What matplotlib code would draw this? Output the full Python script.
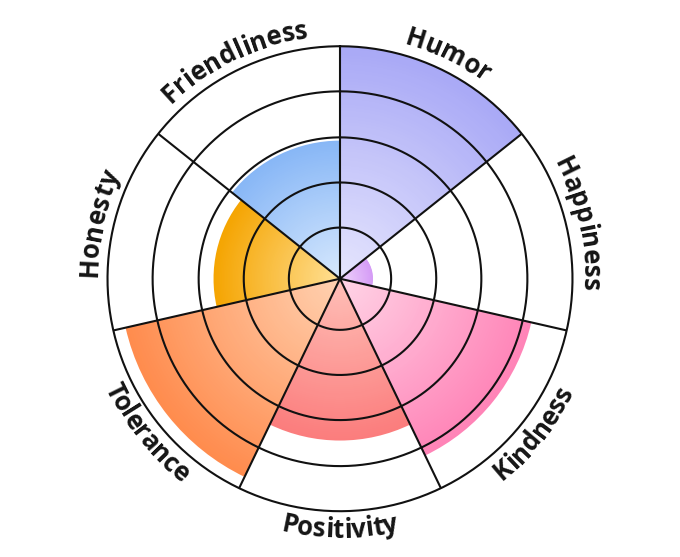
"""Polar area (rose) chart of personality traits with curved outer labels."""

import numpy as np
import matplotlib
matplotlib.use("Agg")
import matplotlib.pyplot as plt
from matplotlib.colors import LinearSegmentedColormap
from matplotlib.font_manager import FontProperties

LABELS = ["Humor", "Happiness", "Kindness", "Positivity",
          "Tolerance", "Honesty", "Friendliness"]
VALUES = [5.0, 0.71, 4.22, 3.48, 4.73, 2.72, 2.97]
RINGS = [1.1, 2.07, 3.04, 4.03, 5.0]
R_MAX = 5.0

# radial gradient per sector: centre colour -> edge colour
INNER_COLORS = ["#e6e6fd", "#f0d6fb", "#ffd5e7", "#ffc0b8",
                "#ffd2b2", "#ffe095", "#d8e9fd"]
OUTER_COLORS = ["#a9a9f6", "#d59cf6", "#ff84b7", "#fb7d7d",
                "#ff8c4e", "#f5a502", "#88b7f6"]

R_PX = 232.5                 # outer ring radius in output pixels
BASE_OUT_PX = 243            # baseline radius, letters pointing outward
BASE_IN_PX = 259             # baseline radius, letters pointing inward
LINE_W = 1.5
N_LAYERS = 80                # gradient layers per sector


def main():
    fig = plt.figure(figsize=(6.8, 5.57), dpi=100)
    ax = fig.add_axes([0.1581, 0.0822, 0.6838, 0.8348], projection="polar")
    ax.set_theta_zero_location("N")
    ax.set_theta_direction(-1)
    ax.set_ylim(0, R_MAX)
    ax.grid(False)
    ax.set_xticks([])
    ax.set_yticks([])
    ax.spines["polar"].set_visible(False)

    n = len(LABELS)
    step = 2 * np.pi / n

    # gradient wedges: nested bars, biggest first, each a bit lighter
    for i, (v, c0, c1) in enumerate(zip(VALUES, INNER_COLORS, OUTER_COLORS)):
        cmap = LinearSegmentedColormap.from_list(f"sector{i}", [c0, c1])
        for k in range(N_LAYERS, 0, -1):
            frac = k / N_LAYERS
            ax.bar(i * step, v * frac, width=step, bottom=0, align="edge",
                   color=cmap(frac), linewidth=0, zorder=1)

    # rings and spokes
    full = np.linspace(0, 2 * np.pi, 500)
    for rv in RINGS:
        ax.plot(full, np.full_like(full, rv), color="#111111", lw=LINE_W,
                zorder=3, clip_on=False)
    for i in range(n):
        ax.plot([i * step, i * step], [0, R_MAX], color="#111111", lw=LINE_W,
                zorder=3, clip_on=False, solid_capstyle="butt")

    # curved labels, one glyph at a time
    prop = FontProperties(family=["Open Sans", "DejaVu Sans"], weight="bold", size=18.5)
    renderer = fig.canvas.get_renderer()

    def width(s):
        if not s:
            return 0.0
        return renderer.get_text_width_height_descent(s, prop, ismath=False)[0]

    for i, label in enumerate(LABELS):
        theta0 = (i + 0.5) * step
        outward = not (np.pi / 2 < theta0 < 3 * np.pi / 2)
        base_px = BASE_OUT_PX if outward else BASE_IN_PX
        r_data = base_px / R_PX * R_MAX
        total = width(label)
        for k, ch in enumerate(label):
            s = 0.5 * (width(label[:k]) + width(label[:k + 1])) - total / 2
            if outward:
                th = theta0 + s / base_px
                rot = -np.degrees(th)
            else:
                th = theta0 - s / base_px
                rot = 180 - np.degrees(th)
            ax.text(th, r_data, ch, fontproperties=prop, color="#151515",
                    rotation=rot, rotation_mode="anchor",
                    ha="center", va="baseline", clip_on=False)

    fig.savefig("out.png", dpi=100, facecolor="white")


if __name__ == "__main__":
    main()
